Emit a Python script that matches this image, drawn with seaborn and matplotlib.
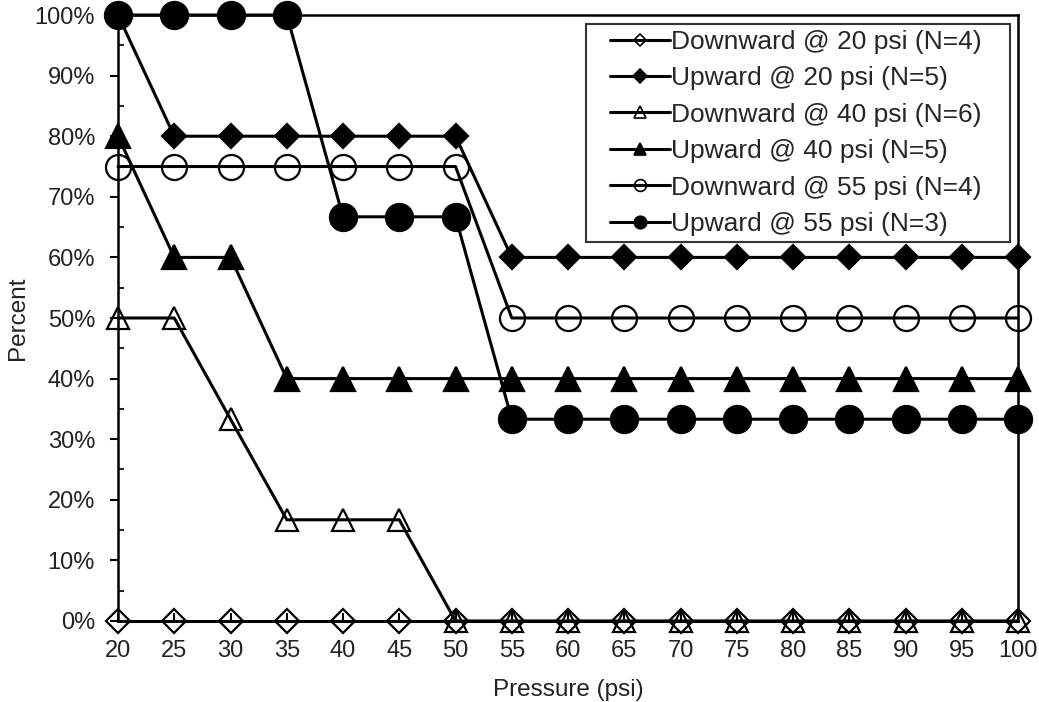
import matplotlib
matplotlib.use("Agg")
import matplotlib.pyplot as plt
import seaborn as sns
import numpy as np
from matplotlib.ticker import MultipleLocator, PercentFormatter
from matplotlib.lines import Line2D
from matplotlib.legend_handler import HandlerLine2D

pressure = [20, 25, 30, 35, 40, 45, 50, 55, 60, 65, 70, 75, 80, 85, 90, 95, 100]
down_20 = [0, 0, 0, 0, 0, 0, 0, 0, 0, 0, 0, 0, 0, 0, 0, 0, 0]
up_20 = [100, 80, 80, 80, 80, 80, 80, 60, 60, 60, 60, 60, 60, 60, 60, 60, 60]
down_40 = [50, 50, 33.3, 16.7, 16.7, 16.7, 0, 0, 0, 0, 0, 0, 0, 0, 0, 0, 0]
up_40 = [80, 60, 60, 40, 40, 40, 40, 40, 40, 40, 40, 40, 40, 40, 40, 40, 40]
down_55 = [75, 75, 75, 75, 75, 75, 75, 50, 50, 50, 50, 50, 50, 50, 50, 50, 50]
up_55 = [100, 100, 100, 100, 66.7, 66.7, 66.7, 33.3, 33.3, 33.3, 33.3, 33.3, 33.3, 33.3, 33.3, 33.3, 33.3]

labels = ["Downward @ 20 psi (N=4)", "Upward @ 20 psi (N=5)", "Downward @ 40 psi (N=6)",
          "Upward @ 40 psi (N=5)", "Downward @ 55 psi (N=4)", "Upward @ 55 psi (N=3)"]
series = [down_20, up_20, down_40, up_40, down_55, up_55]
markers = ["D", "D", "^", "^", "o", "o"]
faces = ["none", "black", "none", "black", "none", "black"]
msizes = [12.5, 12.5, 16.5, 17.5, 18, 19.5]
leg_sizes = [6.5, 7, 8.5, 9, 8.5, 9]

sns.set_style("white")
plt.rcParams['font.family'] = ['Liberation Sans', 'DejaVu Sans']

fig = plt.figure(figsize=(10.39, 7.02), dpi=100)
ax = fig.add_axes([0.1136, 0.1154, 0.8662, 0.8632])

for y, lab, m, fc, ms in zip(series, labels, markers, faces, msizes):
    sns.lineplot(x=pressure, y=y, ax=ax, color="black", lw=2.2, marker=m, markersize=ms,
                 markerfacecolor=fc, markeredgecolor="black", markeredgewidth=1.6,
                 label=lab, clip_on=False)

ax.set_xlim(20, 100)
ax.set_ylim(0, 100)
ax.xaxis.set_major_locator(MultipleLocator(5))
ax.yaxis.set_major_locator(MultipleLocator(10))
ax.yaxis.set_minor_locator(MultipleLocator(5))
ax.yaxis.set_major_formatter(PercentFormatter(decimals=0))
ax.tick_params(axis="y", which="major", direction="out", length=6, width=1.5, left=True,
               labelsize=17, colors="black", pad=10.5)
ax.tick_params(axis="y", which="minor", direction="in", length=4, width=1.5, left=True)
ax.tick_params(axis="x", which="major", direction="in", length=6, width=1.5, bottom=True,
               labelsize=17, colors="black", pad=14)
for lbl in ax.get_xticklabels() + ax.get_yticklabels():
    lbl.set_color("#222222")
for s in ax.spines.values():
    s.set_color("black")
    s.set_linewidth(1.8)
ax.set_xlabel("Pressure (psi)", fontsize=17.5, color="#222222")
ax.set_ylabel("Percent", fontsize=17.5, color="#222222")
ax.xaxis.labelpad = 12
ax.yaxis.labelpad = 4

handles, _ = ax.get_legend_handles_labels()
leg = ax.legend(handles, [l + "   " for l in labels], loc="upper right", fontsize=19,
                frameon=True, fancybox=False, edgecolor="black",
                handlelength=2.95, handletextpad=0.05,
                borderaxespad=0.0, labelspacing=0.47, borderpad=0.22,
                bbox_to_anchor=(0.991, 0.985),
                handler_map={Line2D: HandlerLine2D(xpad=0.68)})
leg.get_frame().set_linewidth(1.5)
for h, s in zip(leg.get_lines(), leg_sizes):
    h.set_markersize(s)
    h.set_markeredgewidth(1.2)

fig.savefig("out.png", dpi=100)
